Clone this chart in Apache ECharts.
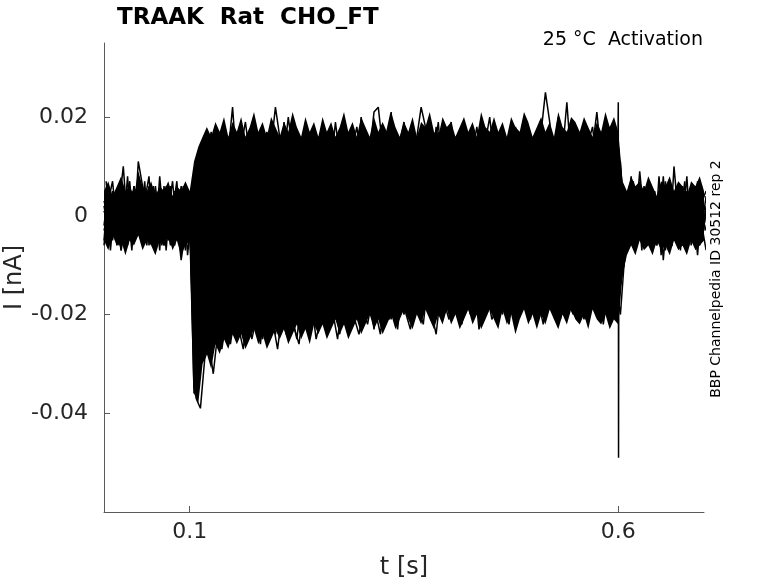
<!DOCTYPE html>
<html>
<head>
<meta charset="utf-8">
<script src="https://cdn.jsdelivr.net/npm/echarts@6.0.0/dist/echarts.min.js"></script>
<style>
html,body{margin:0;padding:0;background:#fff;}
#chart{width:778px;height:583px;}
</style>
</head>
<body>
<div id="chart"></div>
<script>
// ---- data (current in nA, sampled every 5 ms) ----
const sampleInterval = 0.005; // s
// time of the first sample of each sweep (s)
const sweepStartTimes = [0, 0.0025, 0, 0.0025, 0, 0.0025, 0, 0.0025, 0, 0.0025, 0, 0.0025, 0, 0.0025];
const xTicks = [0.1, 0.6];
const yTicks = [-0.04, -0.02, 0, 0.02];

// upper / lower edge of the solid core where all sweeps overlap (same 5 ms grid, from t = 0 s)
const coreUpper = [.005,.007,.004,.006,.008,.005,.006,.004,.009,.006,.005,.007,.004,.006,.005,.007,.004,.006,.005,.007,.005,
.011,.014,.016,.018,.016,.019,.017,.020,.016,.019,
.017,.020,.016,.018,.021,.017,.019,.016,.020,.018,
.016,.019,.017,.021,.018,.016,.020,.017,.019,.016,
.020,.017,.019,.016,.018,.021,.017,.019,.016,.020,
.018,.016,.020,.017,.019,.017,.021,.018,.016,.019,
.017,.020,.016,.019,.018,.021,.017,.016,.020,.018,
.019,.016,.018,.020,.017,.019,.016,.021,.018,.017,
.020,.017,.019,.016,.020,.018,.017,.021,.019,.016,
.018,.020,.017,.019,.016,.021,.018,.017,.020,.019,
.017,.020,.018,.016,.019,.017,.021,.018,.020,.017,
.007,.005,.008,.006,.007,.005,.008,.006,.004,.007,.006,.008,.005,.007,.006,.004,.007,.006,.008,.005];

const coreLower = [-.005,-.007,-.004,-.006,-.005,-.008,-.005,-.006,-.004,-.007,-.005,-.006,-.008,-.005,-.006,-.004,-.007,-.005,-.008,-.006,-.005,
-.036,-.038,-.030,-.028,-.031,-.026,-.028,-.025,-.027,-.024,
-.026,-.024,-.027,-.025,-.023,-.026,-.024,-.027,-.025,-.023,
-.025,-.023,-.026,-.024,-.022,-.025,-.023,-.026,-.022,-.024,
-.022,-.025,-.023,-.021,-.024,-.022,-.025,-.023,-.021,-.024,
-.022,-.020,-.023,-.021,-.024,-.022,-.020,-.023,-.021,-.019,
-.021,-.023,-.020,-.022,-.019,-.021,-.023,-.020,-.022,-.019,
-.022,-.020,-.023,-.021,-.019,-.022,-.020,-.023,-.021,-.019,
-.021,-.023,-.019,-.022,-.020,-.024,-.021,-.019,-.022,-.020,
-.023,-.020,-.022,-.019,-.021,-.023,-.020,-.022,-.019,-.021,
-.022,-.020,-.023,-.019,-.021,-.022,-.020,-.023,-.021,-.022,
-.012,-.008,-.006,-.008,-.005,-.007,-.006,-.008,-.005,-.007,-.006,-.008,-.005,-.007,-.006,-.008,-.005,-.007,-.006,-.005];

const trace1 = [.002,-.003,.005,-.001,-.005,.003,0,.006,-.002,-.004,.001,.004,-.003,.002,-.006,0,.003,-.001,.005,-.002,.001,
.007,.010,.015,.011,.017,.012,.009,.016,.013,.022,
.010,.014,.019,.012,.008,.015,.011,.017,.014,.022,
.016,.012,.020,.013,.010,.015,.018,.011,.014,.008,
.013,.017,.010,.019,.012,.015,.009,.014,.018,.011,
.016,.013,.021,.022,.014,.017,.021,.008,.015,.019,
.011,.014,.016,.022,.018,.013,.012,.017,.010,.015,
.019,.012,.014,.008,.016,.013,.018,.011,.015,.020,
.012,.009,.016,.014,.011,.018,.013,.017,.015,.010,
.014,.017,.025,.019,.009,.015,.013,.023,.011,.018,
.013,.010,.017,.014,.021,.012,.015,.009,.016,.014,
.003,-.002,.005,0,-.004,.006,.001,-.003,.004,-.001,.007,-.005,.010,0,-.003,.005,-.002,.003,-.006,.001];

const trace2 = [-.001,.004,-.004,.002,.010,-.002,-.005,.001,.003,-.003,.005,-.001,-.004,.003,0,-.006,.002,.004,-.002,0,.003,
.005,.008,.006,.012,.007,.010,.014,.006,.011,.008,
.013,.009,.005,.012,.015,.008,.010,.006,.013,.011,
.007,.014,.009,.011,.004,.012,.016,.008,.010,.013,
.006,.011,.015,.009,.007,.013,.010,.017,.008,.012,
.009,.005,.014,.011,.008,.016,.010,.013,.006,.012,
.015,.009,.011,.007,.013,.010,.018,.008,.012,.006,
.011,.014,.009,.016,.007,.010,.013,.005,.012,.015,
.008,.011,.006,.014,.010,.017,.009,.012,.007,.013,
.010,.015,.008,.011,.014,.006,.012,.009,.016,.010,
.007,.013,.011,.015,.008,.012,.010,.014,.006,.011,
-.003,.004,-.001,.006,-.005,.002,0,-.004,.005,-.002,.003,-.006,.001,.004,-.003,0,.006,-.001,-.004,.002];

const trace3 = [.003,0,-.005,.004,-.002,.001,.005,-.004,.011,.006,-.003,.002,-.002,.004,-.005,.001,.007,-.003,0,-.004,.002,
.002,.004,.008,.003,.007,.001,.009,.005,.010,.004,
.006,.011,.003,.008,.005,.012,.002,.007,.009,.004,
.010,.006,.001,.008,.012,.005,.007,.003,.009,.011,
.004,.008,.013,.006,.002,.009,.005,.011,.007,.003,
.008,.012,.005,.010,.001,.007,.009,.004,.011,.006,
.003,.009,.007,.013,.005,.008,.002,.010,.006,.012,
.004,.007,.011,.005,.009,.002,.008,.012,.006,.003,
.010,.005,.008,.001,.011,.007,.004,.009,.013,.006,
.002,.008,.010,.005,.012,.004,.007,.009,.003,.011,
.006,.010,.004,.008,.002,.009,.012,.005,.007,.004,
.001,-.005,.003,-.002,.009,0,-.003,.004,-.006,.002,-.001,.005,-.004,.003,0,-.002,.006,-.005,.001,.004];

const trace4 = [-.004,.002,.001,-.003,.005,-.006,.003,0,-.002,.004,-.001,.006,-.005,.002,.001,-.003,-.002,.005,-.004,.003,0,
0,.002,-.001,.005,.003,.007,0,.004,-.002,.006,
.002,.008,.001,.005,-.001,.004,.009,.003,0,.006,
-.002,.005,.003,.008,.001,.007,-.001,.004,.006,.002,
.009,0,.005,.003,-.002,.007,.004,.001,.008,.003,
.005,-.001,.006,.002,.009,.004,0,.007,.003,-.002,
.006,.004,.008,.001,.005,-.001,.003,.007,.002,.010,
0,.005,.003,.008,-.002,.006,.004,.001,.007,.003,
-.001,.009,.002,.005,.004,0,.008,.003,.006,-.002,
.004,.007,.001,.005,.009,.002,-.001,.006,.003,.008,
0,.004,.007,.002,.005,-.002,.006,.003,.009,.001,
.004,-.002,0,.005,-.003,.002,-.006,.001,.003,-.004,.006,-.001,-.003,.002,.005,-.005,0,.004,-.002,-.007];

const trace5 = [.001,-.002,.004,-.005,0,.003,-.003,.006,-.001,.002,-.004,.001,.005,-.002,-.006,.003,0,-.001,-.009,-.003,.002,
-.003,-.001,.002,-.004,.003,-.002,.001,.005,-.003,0,
.004,-.002,-.005,.002,0,.006,-.001,-.004,.003,.001,
-.003,.005,0,-.002,.004,-.005,.002,.001,-.001,.006,
-.004,0,.003,-.002,.005,-.003,.001,-.006,.002,.004,
0,-.003,.006,.001,-.002,.003,-.005,.002,-.001,.005,
-.002,.004,-.004,0,.003,-.001,.006,-.003,.001,-.005,
.002,.005,-.002,0,-.004,.003,.001,-.001,.006,-.003,
0,.004,-.005,.002,-.001,.003,-.002,.005,0,-.004,
.003,-.001,.001,.006,-.003,0,.004,-.002,.002,-.005,
.001,.004,-.002,.003,-.004,0,.005,-.001,.002,-.003,
-.002,.005,-.004,.001,.003,-.001,-.005,.004,0,.002,-.003,.006,-.002,0,-.004,.003,.001,-.006,.002,-.001];

const trace6 = [0,.003,-.003,.001,-.006,.004,.002,-.002,.005,-.001,-.004,0,.003,-.005,.002,.006,-.002,.001,-.003,.004,-.001,
-.014,-.010,-.005,-.009,-.003,-.007,-.002,-.008,-.004,-.001,
-.006,-.009,-.002,-.005,0,-.007,-.003,-.010,-.001,-.004,
-.008,-.002,-.006,.001,-.005,-.009,-.003,0,-.007,-.004,
-.001,-.006,-.010,-.003,-.005,0,-.008,-.002,-.004,-.009,
-.003,.001,-.006,-.004,-.008,-.001,-.005,-.010,-.002,-.006,
0,-.004,-.007,-.003,-.009,-.001,-.005,-.002,-.008,.001,
-.006,-.003,-.004,-.010,-.002,-.007,0,-.005,-.003,-.008,
-.001,-.006,-.004,-.009,.002,-.005,-.003,-.007,-.001,-.004,
-.008,-.002,-.006,0,-.005,-.010,-.003,-.004,-.007,-.001,
-.005,-.009,-.002,-.006,-.003,0,-.008,-.004,-.006,-.002,
.002,-.003,.004,-.005,0,.003,-.001,-.004,.005,-.009,.001,-.006,.003,0,-.003,.004,-.001,.002,-.005,.001];

const trace7 = [-.002,.005,0,-.004,.003,-.001,.002,-.005,.004,.001,-.003,0,.006,-.002,-.004,.003,-.006,.001,.002,-.001,-.003,
-.024,-.017,-.013,-.017,-.010,-.015,-.011,-.018,-.009,-.014,
-.012,-.007,-.016,-.010,-.013,-.008,-.015,-.011,-.006,-.014,
-.010,-.013,-.007,-.016,-.009,-.012,-.005,-.011,-.014,-.008,
-.013,-.006,-.010,-.015,-.008,-.011,-.004,-.012,-.009,-.014,
-.007,-.011,-.013,-.005,-.010,-.008,-.014,-.006,-.012,-.009,
-.004,-.011,-.008,-.013,-.006,-.010,-.003,-.009,-.012,-.007,
-.010,-.005,-.013,-.008,-.011,-.004,-.009,-.014,-.007,-.010,
-.006,-.012,-.008,-.003,-.011,-.009,-.013,-.005,-.010,-.007,
-.012,-.004,-.009,-.011,-.006,-.014,-.008,-.010,-.003,-.009,
-.007,-.012,-.005,-.010,-.013,-.006,-.009,-.004,-.011,-.008,
-.006,.001,-.003,.004,-.002,0,-.005,.003,-.001,.005,-.004,.002,0,-.003,.006,-.002,.001,-.004,.003,0];

const trace8 = [.004,-.001,-.003,.002,0,-.005,.005,.001,-.002,.003,-.004,.002,-.001,.004,-.003,0,.005,-.002,-.005,.001,.003,
-.030,-.022,-.017,-.021,-.015,-.019,-.013,-.020,-.016,-.012,
-.018,-.014,-.021,-.011,-.017,-.015,-.019,-.010,-.016,-.013,
-.020,-.012,-.015,-.018,-.009,-.014,-.017,-.011,-.019,-.013,
-.010,-.016,-.012,-.018,-.014,-.008,-.015,-.013,-.017,-.011,
-.014,-.009,-.016,-.012,-.018,-.010,-.013,-.015,-.007,-.012,
-.016,-.011,-.014,-.008,-.013,-.017,-.010,-.012,-.015,-.009,
-.013,-.016,-.007,-.012,-.014,-.010,-.017,-.011,-.008,-.015,
-.012,-.009,-.014,-.016,-.010,-.013,-.006,-.011,-.015,-.012,
-.009,-.014,-.011,-.017,-.008,-.012,-.015,-.010,-.013,-.007,
-.014,-.011,-.016,-.009,-.012,-.015,-.010,-.013,-.008,-.014,
-.009,-.004,.002,-.003,.005,-.001,-.005,.003,0,-.002,.004,-.006,.001,-.001,.003,-.004,.006,-.002,0,-.003];

const trace9 = [-.003,.001,.003,-.006,.002,-.001,.004,-.003,0,.005,-.002,-.005,.003,.001,-.004,.006,-.001,.002,-.003,0,-.002,
-.035,-.027,-.022,-.025,-.019,-.023,-.018,-.024,-.020,-.016,
-.022,-.018,-.025,-.017,-.021,-.015,-.023,-.019,-.016,-.022,
-.018,-.021,-.014,-.020,-.017,-.023,-.015,-.019,-.013,-.018,
-.021,-.016,-.019,-.012,-.018,-.022,-.015,-.017,-.020,-.013,
-.017,-.020,-.014,-.018,-.011,-.016,-.021,-.013,-.019,-.015,
-.012,-.018,-.016,-.020,-.013,-.017,-.010,-.015,-.019,-.014,
-.017,-.011,-.016,-.019,-.013,-.015,-.020,-.012,-.014,-.018,
-.010,-.016,-.013,-.017,-.015,-.019,-.012,-.014,-.009,-.016,
-.018,-.013,-.015,-.011,-.017,-.014,-.020,-.012,-.016,-.010,
-.015,-.018,-.013,-.016,-.011,-.019,-.014,-.012,-.017,-.015,
-.007,-.002,.003,-.004,.001,-.001,.005,-.003,-.006,.002,0,.004,-.002,-.005,.001,.003,-.001,-.004,.005,0];

const trace10 = [.002,-.004,0,.004,-.002,-.005,.001,.003,-.001,-.003,.006,-.002,.001,-.006,.003,0,-.002,.004,-.004,.002,-.001,
-.037,-.039,-.029,-.026,-.032,-.024,-.027,-.021,-.026,-.020,
-.023,-.027,-.019,-.025,-.021,-.026,-.018,-.024,-.022,-.027,
-.020,-.024,-.017,-.023,-.026,-.019,-.022,-.018,-.025,-.021,
-.016,-.023,-.020,-.025,-.018,-.022,-.015,-.021,-.024,-.019,
-.022,-.017,-.020,-.024,-.016,-.021,-.018,-.023,-.015,-.020,
-.023,-.017,-.019,-.022,-.014,-.020,-.024,-.016,-.018,-.021,
-.015,-.019,-.022,-.017,-.020,-.014,-.023,-.018,-.016,-.021,
-.019,-.013,-.018,-.022,-.016,-.020,-.015,-.017,-.021,-.014,
-.018,-.022,-.016,-.013,-.019,-.021,-.015,-.018,-.020,-.014,
-.017,-.021,-.015,-.019,-.013,-.022,-.016,-.018,-.014,-.020,
-.008,-.003,.001,-.005,.003,-.002,.004,-.006,0,.002,-.004,.005,-.001,-.003,.002,-.005,.003,0,-.002,.004];

const trace11 = [-.006,.003,.007,-.002,-.007,.001,.005,-.004,.008,-.001,-.006,.004,.002,-.007,.006,-.003,.001,.007,-.005,.003,-.002,
.006,.009,.013,.008,.015,.011,.006,.014,.009,.017,
.012,.007,.015,.010,.018,.008,.013,.005,.016,.011,
.009,.019,.012,.006,.014,.010,.017,.007,.013,.016,
.008,.012,.018,.010,.014,.006,.016,.011,.009,.020,
.013,.008,.015,.011,.006,.017,.012,.014,.009,.016,
.010,.018,.007,.013,.015,.009,.012,.019,.008,.014,
.011,.016,.006,.013,.010,.017,.012,.008,.015,.011,
.019,.009,.014,.007,.016,.012,.010,.018,.013,.008,
.015,.011,.017,.009,.013,.020,.010,.014,.006,.016,
.012,.009,.015,.018,.010,.013,.007,.016,.011,.014,
.005,-.003,.008,-.006,.002,-.001,.007,-.004,.003,-.008,.006,0,-.005,.004,-.002,.008,-.006,.001,.005,-.003];

const trace12 = [.005,-.007,.002,.006,-.003,.008,-.005,.001,-.002,.007,-.006,.003,-.001,.005,-.007,.004,.002,-.004,.006,-.008,.001,
-.020,-.014,-.008,-.012,-.005,-.010,-.003,-.011,-.007,-.002,
-.009,-.004,-.012,-.006,-.001,-.010,-.007,-.003,-.011,-.005,
-.008,-.002,-.010,-.006,-.012,-.004,-.007,-.001,-.009,-.005,
-.011,-.003,-.008,-.006,-.013,-.002,-.009,-.005,-.010,-.004,
-.007,-.012,-.003,-.008,-.001,-.010,-.006,-.011,-.004,-.009,
-.002,-.007,-.012,-.005,-.009,-.003,-.010,-.006,-.001,-.008,
-.011,-.004,-.007,-.010,-.002,-.009,-.005,-.012,-.006,-.003,
-.008,-.010,-.004,-.007,-.012,-.002,-.006,-.009,-.005,-.011,
-.003,-.008,-.006,-.010,-.001,-.007,-.011,-.004,-.009,-.005,
-.012,-.006,-.003,-.009,-.007,-.002,-.010,-.005,-.008,-.004,
-.004,.006,-.002,.003,-.007,.005,0,-.005,.008,-.003,.002,-.006,.004,-.001,.007,-.004,.001,-.008,.003,.005];

const trace13 = [-.005,.006,-.001,.003,-.007,.002,.007,-.003,.004,-.006,.001,.005,-.004,.008,-.002,-.005,.003,-.001,.006,-.007,.002,
-.036,-.030,-.024,-.028,-.021,-.026,-.019,-.025,-.022,-.018,
-.024,-.020,-.026,-.017,-.023,-.019,-.025,-.016,-.021,-.024,
-.018,-.022,-.015,-.021,-.025,-.017,-.020,-.023,-.016,-.019,
-.022,-.014,-.020,-.018,-.024,-.016,-.019,-.021,-.013,-.018,
-.021,-.016,-.023,-.015,-.019,-.012,-.018,-.022,-.016,-.020,
-.014,-.019,-.017,-.021,-.013,-.018,-.016,-.020,-.012,-.017,
-.019,-.014,-.021,-.016,-.018,-.011,-.017,-.020,-.015,-.013,
-.018,-.016,-.020,-.012,-.017,-.015,-.019,-.013,-.021,-.016,
-.014,-.018,-.011,-.017,-.020,-.015,-.013,-.019,-.016,-.012,
-.017,-.021,-.014,-.018,-.012,-.016,-.019,-.013,-.017,-.015,
-.010,-.004,.002,-.006,.004,-.002,.007,-.005,0,.003,-.007,.005,-.003,.001,-.006,.004,-.001,.006,-.004,.002];

const trace14 = [.007,-.004,.001,-.006,.004,.002,-.007,.005,-.002,.003,.008,-.005,.001,-.003,.006,-.001,-.006,.003,.002,-.004,.005,
.001,.003,.006,.002,.008,-.001,.005,.010,.002,.007,
.004,-.001,.006,.009,.003,.007,.001,.005,.010,.004,
.002,.008,.005,0,.007,.011,.003,.006,.001,.008,
.005,.010,.002,.006,.004,.009,-.001,.007,.003,.005,
.008,.002,.006,.011,.004,.001,.007,.003,.009,.005,
.002,.007,.004,.010,.001,.006,.008,.003,.005,.009,
.006,.001,.008,.004,.010,.002,.005,.007,-.001,.006,
.003,.009,.005,.002,.008,.004,.011,.006,.001,.007,
.004,.008,.002,.006,.003,.010,.005,.001,.008,.004,
.007,.002,.009,.005,.003,.006,.001,.008,.004,.006,
-.005,.003,.007,-.002,.004,-.006,.001,.005,-.003,.008,-.004,0,.006,-.007,.002,.004,-.002,.007,-.005,.001];

// capacitive spike at the end of the step (t = 0.6 s)
const spikeTimes  = [0.5995, 0.6, 0.6003, 0.6006];
const spikeValues = [0.014, 0.023, -0.049, -0.010];

const traces = [trace1, trace2, trace3, trace4, trace5, trace6, trace7,
                trace8, trace9, trace10, trace11, trace12, trace13, trace14];

// ---- chart ----
const FONT = 'DejaVu Sans';
const chart = echarts.init(document.getElementById('chart'), null, {renderer: 'canvas'});

const lineStyle = {color: '#000', width: 1.5};
const series = [];

// solid core where the sweeps overlap
series.push({
  type: 'custom', name: 'core', clip: true, silent: true, animation: false, z: 1,
  data: coreUpper.map(function (u, i) { return [i * sampleInterval, coreLower[i], u]; }),
  renderItem: function (params, api) {
    if (params.dataIndex !== 0) { return null; }
    const pts = [];
    for (let i = 0; i < coreUpper.length; i++) { pts.push(api.coord([i * sampleInterval, coreUpper[i]])); }
    for (let i = coreLower.length - 1; i >= 0; i--) { pts.push(api.coord([i * sampleInterval, coreLower[i]])); }
    return {type: 'polygon', shape: {points: pts}, style: {fill: '#000'}};
  }
});

traces.forEach(function (vals, k) {
  const t0 = sweepStartTimes[k];
  series.push({
    type: 'line', name: 'trace' + (k + 1),
    data: vals.map(function (v, i) { return [t0 + i * sampleInterval, v]; }),
    showSymbol: false, symbol: 'none', lineStyle: lineStyle, clip: true,
    silent: true, animation: false, z: 2
  });
});
series.push({
  type: 'line', name: 'spike',
  data: spikeTimes.map(function (t, i) { return [t, spikeValues[i]]; }),
  showSymbol: false, symbol: 'none', lineStyle: {color: '#000', width: 1.5},
  silent: true, animation: false, z: 3
});

const axisColor = '#5a5a5a';
const labelColor = '#262626';

chart.setOption({
  animation: false,
  backgroundColor: '#fff',
  grid: {left: 104, right: 74, top: 43, bottom: 71, containLabel: false, outerBoundsMode: 'none'},
  xAxis: {
    type: 'value', min: 0, max: 0.7,
    name: 't [s]', nameLocation: 'middle', nameGap: 44, nameMoveOverlap: false,
    nameTextStyle: {fontFamily: FONT, fontSize: 24, color: labelColor},
    axisLine: {show: true, onZero: false, lineStyle: {color: axisColor, width: 1}},
    axisTick: {show: true, inside: true, length: 6, customValues: xTicks, lineStyle: {color: axisColor}},
    axisLabel: {show: true, customValues: xTicks, margin: 9, fontFamily: FONT, fontSize: 22, color: labelColor,
      formatter: function (v) { return String(v); }},
    splitLine: {show: false}
  },
  yAxis: {
    type: 'value', min: -0.06, max: 0.035,
    name: 'I [nA]', nameLocation: 'middle', nameGap: 77, nameRotate: 90, nameMoveOverlap: false,
    nameTextStyle: {fontFamily: FONT, fontSize: 24, color: labelColor},
    axisLine: {show: true, onZero: false, lineStyle: {color: axisColor, width: 1}},
    axisTick: {show: true, inside: true, length: 6, customValues: yTicks, lineStyle: {color: axisColor}},
    axisLabel: {show: true, customValues: yTicks, margin: 16, fontFamily: FONT, fontSize: 22, color: labelColor,
      formatter: function (v) { return String(v); }},
    splitLine: {show: false}
  },
  graphic: [
    {type: 'text', x: 117, y: 18, style: {text: 'TRAAK  Rat  CHO_FT', fontFamily: FONT, fontWeight: 'bold',
      fontSize: 23, fill: '#000', align: 'left', verticalAlign: 'middle'}},
    {type: 'text', x: 703, y: 40, style: {text: '25 \u00B0C  Activation', fontFamily: FONT,
      fontSize: 19, fill: '#000', align: 'right', verticalAlign: 'middle'}},
    {type: 'text', x: 716, y: 279, rotation: Math.PI / 2, style: {text: 'BBP Channelpedia ID 30512 rep 2',
      fontFamily: FONT, fontSize: 14, fill: '#000', align: 'center', verticalAlign: 'middle'}}
  ],
  series: series
});
</script>
</body>
</html>
